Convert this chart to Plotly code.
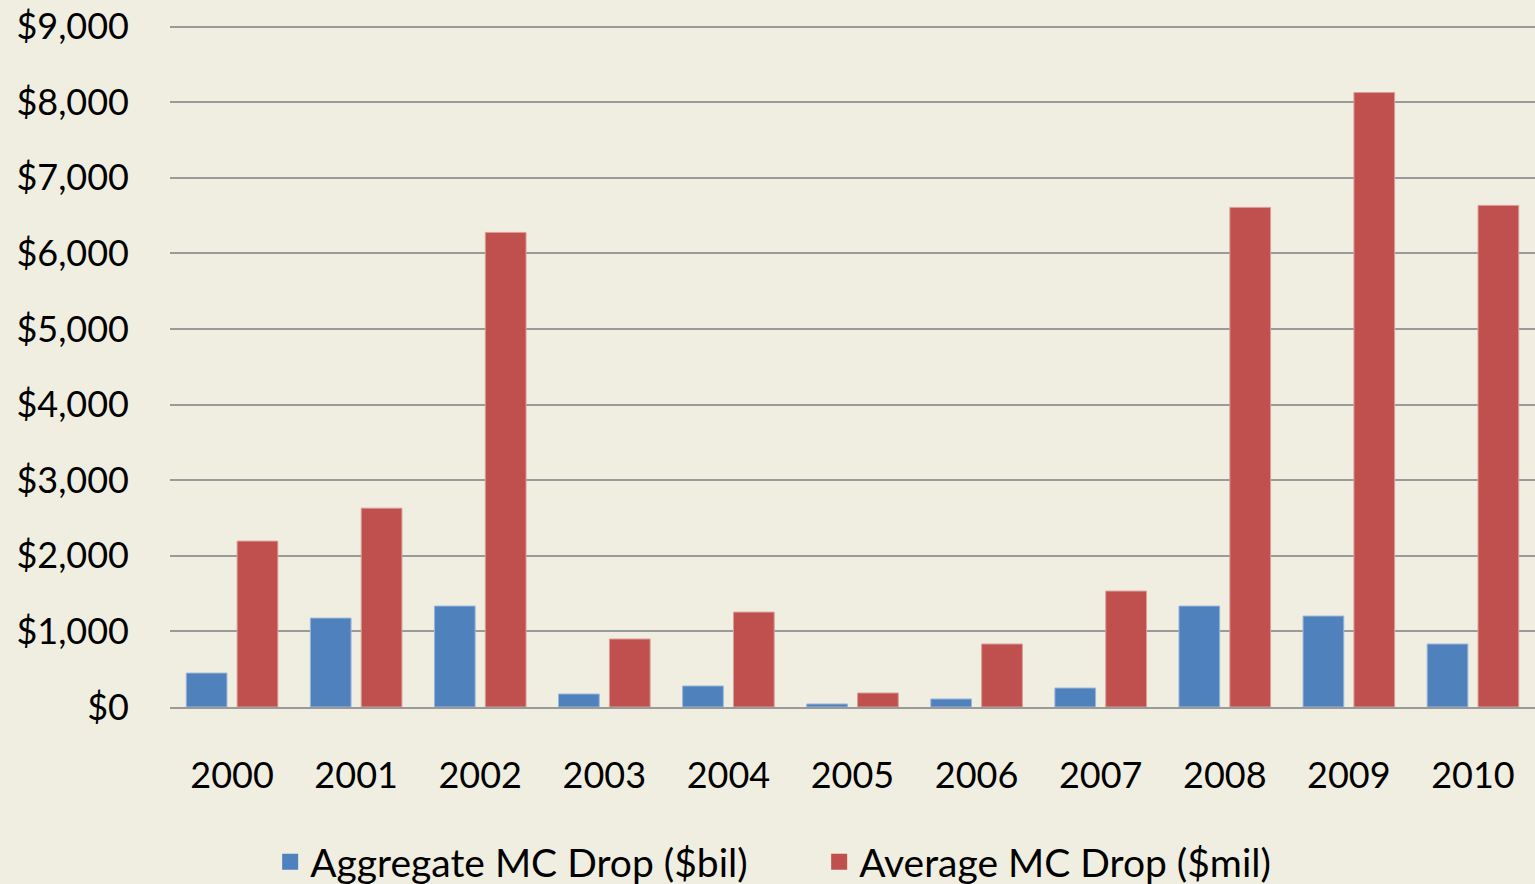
import plotly.graph_objects as go

years = ["2000", "2001", "2002", "2003", "2004", "2005", "2006", "2007", "2008", "2009", "2010"]
aggregate_bil = [449, 1176, 1335, 172, 278, 40, 106, 251, 1335, 1203, 833]
average_mil = [2194, 2630, 6277, 899, 1255, 185, 833, 1533, 6608, 8127, 6634]
y_ticks = [0, 1000, 2000, 3000, 4000, 5000, 6000, 7000, 8000, 9000]
y_tick_text = ["$0", "$1,000", "$2,000", "$3,000", "$4,000", "$5,000", "$6,000", "$7,000", "$8,000", "$9,000"]

BLUE = "#4F81BD"
RED = "#C0504D"
BG = "#EFEEE0"
FONT = "Lato, 'Open Sans', sans-serif"

fig = go.Figure()
fig.add_trace(go.Bar(x=years, y=aggregate_bil, name="Aggregate MC Drop ($bil)",
                     marker=dict(color=BLUE, line=dict(color="#9DB5D8", width=1)),
                     showlegend=False))
fig.add_trace(go.Bar(x=years, y=average_mil, name="Average MC Drop ($mil)",
                     marker=dict(color=RED, line=dict(color="#DA9C9A", width=1)),
                     showlegend=False))
# legend entries
fig.add_trace(go.Scatter(x=[None], y=[None], mode="markers", name="Aggregate MC Drop ($bil)",
                         marker=dict(symbol="square", size=30, color=BLUE)))
fig.add_trace(go.Scatter(x=[None], y=[None], mode="markers", name="Average MC Drop ($mil)",
                         marker=dict(symbol="square", size=30, color=RED)))

fig.update_layout(
    width=1535, height=884,
    paper_bgcolor=BG, plot_bgcolor=BG,
    margin=dict(l=170, r=0, t=22, b=177),
    barmode="group", bargap=0.18, bargroupgap=0.2,
    font=dict(family=FONT, size=36, color="#000000"),
    showlegend=True,
    legend=dict(orientation="h", xref="container", yref="container",
                x=0.176, xanchor="left", y=0.025, yanchor="middle",
                font=dict(size=39), bgcolor="rgba(0,0,0,0)", itemwidth=30,
                entrywidth=504, tracegroupgap=0),
)
fig.update_xaxes(type="category", showgrid=False, showline=True, linecolor="#9A9A9A", linewidth=2,
                 ticks="", ticklabelstandoff=36, tickfont=dict(size=36), zeroline=False)
fig.update_yaxes(range=[0, 9060], tickvals=y_ticks, ticktext=y_tick_text, showgrid=True,
                 gridcolor="#9A9A9A", gridwidth=1.5, zeroline=False, showline=False,
                 ticks="", ticklabelstandoff=40, tickfont=dict(size=36))

fig.write_html("out.html", config={"displayModeBar": False},
               post_script="document.body.style.margin='0';document.body.style.overflow='hidden';")
